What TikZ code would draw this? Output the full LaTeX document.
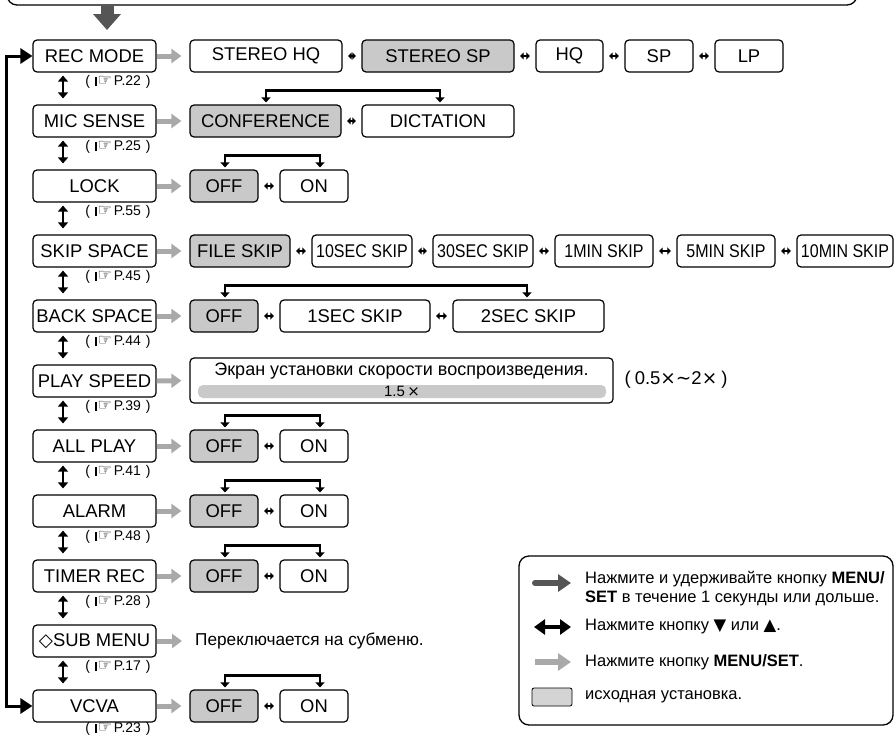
\documentclass[tikz,border=0pt]{standalone}
\usepackage{fontspec}
\setmainfont{Liberation Sans}
\newfontfamily\dv{DejaVu Sans}
\newfontfamily\cond[FakeStretch=0.87]{Liberation Sans}
\usetikzlibrary{arrows.meta}
\definecolor{boxgray}{HTML}{C9C9C9}
\definecolor{lightarrow}{HTML}{A9A9A9}
\definecolor{darkarrow}{HTML}{555555}
\newcommand{\pg}[1]{(\hspace{5pt}\rule[-0.5pt]{2pt}{9pt}\hspace{0.6pt}{\dv\fontsize{16}{16}\selectfont ☞}\hspace{2pt}P.#1\hspace{5pt})}
\begin{document}
\begin{tikzpicture}[x=1pt,y=-1pt,
  box/.style={draw=black, line width=1.2pt, rounded corners=4pt, minimum height=32pt, inner sep=0pt, font=\fontsize{18.4}{20}\selectfont, fill=white},
  gbox/.style={box, fill=boxgray},
  menubox/.style={box, minimum width=123pt},
  go/.style={draw=lightarrow, line width=5pt, -{Triangle[length=10pt,width=14pt]}, shorten >=8pt},
  sw/.style={line width=1.3pt, {Triangle[length=3.5pt,width=7pt]}-{Triangle[length=3.5pt,width=7pt]}, shorten >=5.5pt, shorten <=5.5pt},
  ud/.style={line width=2.5pt, {Triangle[length=6pt,width=10pt]}-{Triangle[length=6pt,width=10pt]}, shorten <=3pt, shorten >=6pt},
  brk/.style={line width=2.6pt, {Triangle[length=5pt,width=9pt]}-{Triangle[length=5pt,width=9pt]}},
  pref/.style={inner sep=0pt, font=\fontsize{14}{15}\selectfont},
  note/.style={inner sep=0pt, anchor=west},
]
\useasboundingbox (0,0) rectangle (896,736);
\begin{scope}
\clip (0,0) rectangle (896,736);
% top box
\node[draw=black, line width=1.3pt, rounded corners=10pt, minimum width=850pt, minimum height=40pt, inner sep=0pt] (top) at (432,-15) {};
\coordinate (toptip) at (107,30);
\draw[darkarrow, line width=13pt, -{Triangle[length=16pt,width=27pt]}] (top.south -| toptip) -- (toptip);

% menu column
\node[menubox] (m0) at (94.5,56) {REC MODE};
\node[menubox] (m1) at (94.5,121) {MIC SENSE};
\node[menubox] (m2) at (94.5,186) {LOCK};
\node[menubox] (m3) at (94.5,251) {SKIP SPACE};
\node[menubox] (m4) at (94.5,316) {BACK SPACE};
\node[menubox] (m5) at (94.5,381) {PLAY SPEED};
\node[menubox] (m6) at (94.5,446) {ALL PLAY};
\node[menubox] (m7) at (94.5,511) {ALARM};
\node[menubox] (m8) at (94.5,576) {TIMER REC};
\node[menubox] (m9) at (94.5,641) {{\dv ◇}SUB MENU};
\node[menubox] (m10) at (94.5,706) {VCVA};

% vertical double arrows
\foreach \a/\b in {m0/m1,m1/m2,m2/m3,m3/m4,m4/m5,m5/m6,m6/m7,m7/m8,m8/m9,m9/m10}
  \draw[ud] ([xshift=-31.5pt]\a.south) -- ([xshift=-31.5pt]\b.north);

% page refs
\node[pref] (p0) at (118,82) {\pg{22}};
\node[pref] (p1) at (118,147) {\pg{25}};
\node[pref] (p2) at (118,212) {\pg{55}};
\node[pref] (p3) at (118,277) {\pg{45}};
\node[pref] (p4) at (118,342) {\pg{44}};
\node[pref] (p5) at (118,407) {\pg{39}};
\node[pref] (p6) at (118,472) {\pg{41}};
\node[pref] (p7) at (118,537) {\pg{48}};
\node[pref] (p8) at (118,602) {\pg{28}};
\node[pref] (p9) at (118,667) {\pg{17}};
\node[pref] (p10) at (118,728.5) {\pg{23}};

% loop line
\draw[line width=3pt, {Triangle[length=12pt,width=15pt]}-{Triangle[length=12pt,width=15pt]}] (m0.west) -- ++(-26,0) |- (m10.west);

% row 0
\node[box, minimum width=152pt] (r0a) at (266,56) {STEREO HQ};
\node[gbox, minimum width=152pt] (r0b) at (438,56) {STEREO SP};
\node[box, minimum width=67pt] (r0c) at (569.5,56) {HQ};
\node[box, minimum width=68pt] (r0d) at (659,56) {SP};
\node[box, minimum width=68pt] (r0e) at (749,56) {LP};
\draw[go] (m0.east) -- (r0a.west);
\draw[sw] (r0a.east) -- (r0b.west);
\draw[sw] (r0b.east) -- (r0c.west);
\draw[sw] (r0c.east) -- (r0d.west);
\draw[sw] (r0d.east) -- (r0e.west);

% row 1
\node[gbox, minimum width=151pt] (r1a) at (265.5,121) {CONFERENCE};
\node[box, minimum width=152pt] (r1b) at (438,121) {DICTATION};
\draw[go] (m1.east) -- (r1a.west);
\draw[sw] (r1a.east) -- (r1b.west);
\draw[brk] ([xshift=0.5pt,yshift=2pt]r1a.north) |- ([xshift=2pt,yshift=14pt]r1b.north) -- ([xshift=2pt,yshift=2pt]r1b.north);

% OFF/ON rows
\foreach \k/\y in {2/186,6/446,7/511,8/576,10/706}{
  \node[gbox, minimum width=68pt] (off\k) at (224,\y) {OFF};
  \node[box, minimum width=68pt] (on\k) at (314,\y) {ON};
  \draw[go] (m\k.east) -- (off\k.west);
  \draw[sw] (off\k.east) -- (on\k.west);
  \draw[brk] ([xshift=1pt,yshift=2pt]off\k.north) |- ([xshift=6pt,yshift=14pt]on\k.north) -- ([xshift=6pt,yshift=2pt]on\k.north);
}

% row 3
\node[gbox, minimum width=100pt] (r3a) at (240,251) {FILE SKIP};
\node[box, minimum width=100pt] (r3b) at (362,251) {\cond 10SEC SKIP};
\node[box, minimum width=100pt] (r3c) at (483,251) {\cond 30SEC SKIP};
\node[box, minimum width=98pt] (r3d) at (604,251) {\cond 1MIN SKIP};
\node[box, minimum width=98pt] (r3e) at (726,251) {\cond 5MIN SKIP};
\node[box, minimum width=96pt] (r3f) at (845,251) {\cond 10MIN SKIP};
\draw[go] (m3.east) -- (r3a.west);
\draw[sw] (r3a.east) -- (r3b.west);
\draw[sw] (r3b.east) -- (r3c.west);
\draw[sw] (r3c.east) -- (r3d.west);
\draw[sw] (r3d.east) -- (r3e.west);
\draw[sw] (r3e.east) -- (r3f.west);

% row 4
\node[gbox, minimum width=68pt] (r4a) at (224,316) {OFF};
\node[box, minimum width=150pt] (r4b) at (355,316) {1SEC SKIP};
\node[box, minimum width=151pt] (r4c) at (528.5,316) {2SEC SKIP};
\draw[go] (m4.east) -- (r4a.west);
\draw[sw] (r4a.east) -- (r4b.west);
\draw[sw] (r4b.east) -- (r4c.west);
\draw[brk] ([xshift=1pt,yshift=2pt]r4a.north) |- ([xshift=-1.5pt,yshift=14pt]r4c.north) -- ([xshift=-1.5pt,yshift=2pt]r4c.north);

% row 5
\node[box, minimum width=423pt, minimum height=45pt] (ps) at (401.5,380.5) {};
\node[inner sep=0pt, font=\fontsize{18}{19}\selectfont] (pstitle) at (401.5,371) {Экран установки скорости воспроизведения.};
\node[fill=boxgray, rounded corners=5pt, minimum width=408pt, minimum height=13pt, inner sep=0pt, font=\fontsize{15}{15}\selectfont] (psbar) at (402,391.5) {1.5\,{\dv ×}};
\node[inner sep=0pt, font=\fontsize{18.5}{19}\selectfont] (range) at (676,380) {(\hspace{4pt}0.5{\dv ×∼}2{\dv ×}\hspace{4pt})};
\draw[go] (m5.east) -- (ps.west);

% row 9
\node[note, font=\fontsize{17.2}{18}\selectfont] (subtxt) at (195,641) {Переключается на субменю.};
\draw[go, shorten >=13pt] (m9.east) -- (subtxt.west);

% legend
\node[draw=black, line width=1.3pt, rounded corners=10pt, minimum width=374pt, minimum height=169pt, inner sep=0pt] (leg) at (706,640.5) {};
\coordinate (l1a) at (535,583); \coordinate (l1b) at (571,583);
\coordinate (l2a) at (534,627); \coordinate (l2b) at (571,627);
\coordinate (l3a) at (535,662); \coordinate (l3b) at (571,662);
\draw[darkarrow, line width=6pt, line cap=round, -{Triangle[length=13pt,width=17pt]}] (l1a) -- (l1b);
\draw[black, line width=4.5pt, {Triangle[length=11pt,width=15pt]}-{Triangle[length=11pt,width=15pt]}] (l2a) -- (l2b);
\draw[lightarrow, line width=6pt, -{Triangle[length=13pt,width=17pt]}] (l3a) -- (l3b);
\node[draw=black, fill=boxgray!80!white, line width=0.8pt, rounded corners=2pt, minimum width=40pt, minimum height=18pt, inner sep=0pt] (l4) at (552,697) {};
\node[note, align=left, font=\fontsize{16.5}{19.5}\selectfont] (t1) at (585,588.5) {Нажмите и удерживайте кнопку \textbf{MENU/}\\\textbf{SET} в течение 1 секунды или дольше.};
\node[note, font=\fontsize{16.5}{19}\selectfont] (t2) at (585,627) {Нажмите кнопку {\dv ▼} или {\dv ▲}.};
\node[note, font=\fontsize{16.5}{19}\selectfont] (t3) at (585,662) {Нажмите кнопку \textbf{MENU/SET}.};
\node[note, font=\fontsize{16.5}{19}\selectfont] (t4) at (585,697) {исходная установка.};
\end{scope}
\end{tikzpicture}
\end{document}
